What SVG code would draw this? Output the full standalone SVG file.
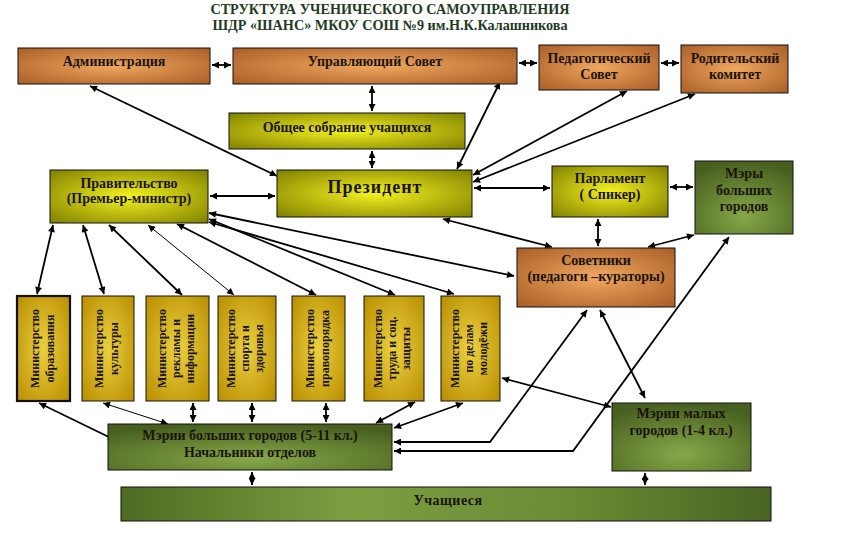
<svg xmlns="http://www.w3.org/2000/svg" width="864" height="540" viewBox="0 0 864 540">
<defs>
<style>
text{font-family:"Liberation Serif","Times New Roman",serif;font-weight:bold;text-anchor:middle;fill:#1a1408}
.t{font-size:14px}
.m{font-size:12px}
.title{font-size:14.2px;fill:#1f3b1f}
.box{stroke:#111;stroke-width:1}
.br{fill:url(#gBrown)}
.ol{fill:url(#gOlive)}
.go{fill:url(#gGold)}
.gr{fill:url(#gGreen)}
.c line,.c polyline{stroke:#000;stroke-width:1.8;fill:none;marker-start:url(#ah);marker-end:url(#ah)}
.c .thin{stroke-width:1}
</style>
<marker id="ah" viewBox="0 0 10 10" refX="10" refY="5" markerUnits="userSpaceOnUse" markerWidth="8" markerHeight="7" orient="auto-start-reverse"><path d="M0,0 L10,5 L0,10 z" fill="#000"/></marker>
<radialGradient id="gBrown" cx="0.5" cy="0.5" r="0.7"><stop offset="0" stop-color="#f0a860"/><stop offset="1" stop-color="#a85e26"/></radialGradient>
<radialGradient id="gOlive" cx="0.5" cy="0.5" r="0.7"><stop offset="0" stop-color="#f4f220"/><stop offset="1" stop-color="#808000"/></radialGradient>
<radialGradient id="gGold" cx="0.5" cy="0.5" r="0.7"><stop offset="0" stop-color="#ecd040"/><stop offset="1" stop-color="#b88e00"/></radialGradient>
<radialGradient id="gGreen" cx="0.5" cy="0.75" r="0.75"><stop offset="0" stop-color="#86a848"/><stop offset="1" stop-color="#48601f"/></radialGradient>
<linearGradient id="gStud" x1="0" y1="0" x2="1" y2="0"><stop offset="0" stop-color="#4e6c22"/><stop offset="0.35" stop-color="#7e9e42"/><stop offset="0.7" stop-color="#6a8a34"/><stop offset="1" stop-color="#4a6422"/></linearGradient>
</defs>
<rect width="864" height="540" fill="#fff"/>
<text class="title" x="390" y="14">СТРУКТУРА УЧЕНИЧЕСКОГО САМОУПРАВЛЕНИЯ</text>
<text class="title" x="390" y="30">ШДР «ШАНС» МКОУ СОШ №9 им.Н.К.Калашникова</text>

<g class="c" id="connectors">
<line x1="212" y1="65" x2="231" y2="65"/>
<line x1="519" y1="63" x2="537" y2="63"/>
<line x1="661" y1="63" x2="679" y2="63"/>
<line x1="372" y1="86" x2="372" y2="111"/>
<line x1="372" y1="151" x2="372" y2="168"/>
<line x1="90" y1="86" x2="277" y2="176"/>
<line x1="500" y1="82" x2="457" y2="169"/>
<line x1="627" y1="91" x2="473" y2="175"/>
<line x1="695" y1="94" x2="473" y2="182"/>
<line x1="474" y1="188" x2="550" y2="188"/>
<line x1="670" y1="187" x2="693" y2="187"/>
<line x1="598" y1="219" x2="598" y2="246"/>
<line x1="648" y1="247" x2="694" y2="235"/>
<line x1="210" y1="196" x2="275" y2="196"/>
<line x1="443" y1="219" x2="552" y2="247"/>
<line x1="209" y1="213" x2="514" y2="276"/>
<line x1="53" y1="225" x2="37" y2="294"/>
<line x1="83" y1="225" x2="104" y2="294"/>
<line x1="109" y1="225" x2="182" y2="295"/>
<line class="thin" x1="148" y1="225" x2="234" y2="295"/>
<line x1="177" y1="224" x2="316" y2="295"/>
<line x1="209" y1="219" x2="395" y2="295"/>
<line x1="209" y1="222" x2="454" y2="294"/>
<line x1="39" y1="403" x2="115" y2="440"/>
<line class="thin" x1="103" y1="403" x2="168" y2="424"/>
<line x1="193" y1="403" x2="193" y2="422"/>
<line x1="252" y1="403" x2="252" y2="422"/>
<line x1="326" y1="403" x2="326" y2="422"/>
<line x1="415" y1="402" x2="376" y2="423"/>
<line x1="463" y1="403" x2="394" y2="428"/>
<polyline points="394,442 490,442 587,310"/>
<polyline points="394,451 573,451 729,237"/>
<line x1="502" y1="378" x2="611" y2="407"/>
<line x1="600" y1="310" x2="645" y2="398"/>
<line x1="252" y1="472" x2="252" y2="485"/>
<line x1="645" y1="473" x2="645" y2="485"/>
</g>

<g id="administration"><rect class="box br" x="18" y="48" width="192" height="36"/><text class="t" x="114" y="66">Администрация</text></g>
<g id="upr-sovet"><rect class="box br" x="233" y="48" width="284" height="36"/><text class="t" x="375" y="66">Управляющий Совет</text></g>
<g id="ped-sovet"><rect class="box br" x="539" y="45" width="120" height="45"/><text class="t" x="599" y="63">Педагогический</text><text class="t" x="599" y="79">Совет</text></g>
<g id="rod-komitet"><rect class="box br" x="681" y="45" width="107" height="48"/><text class="t" x="735" y="63">Родительский</text><text class="t" x="735" y="79">комитет</text></g>
<g id="obshchee"><rect class="box ol" x="229" y="113" width="236" height="36"/><text class="t" x="347" y="132">Общее собрание учащихся</text></g>
<g id="president"><rect class="box ol" x="277" y="170" width="195" height="47"/><text x="375" y="193" style="font-size:18px;letter-spacing:1px">Президент</text></g>
<g id="pravitelstvo"><rect class="box ol" x="50" y="170" width="158" height="53"/><text class="t" x="129" y="188">Правительство</text><text class="t" x="129" y="203">(Премьер-министр)</text></g>
<g id="parlament"><rect class="box ol" x="552" y="166" width="116" height="51"/><text class="t" x="610" y="183">Парламент</text><text class="t" x="610" y="199">( Спикер)</text></g>
<g id="mery-bolshih"><rect class="box gr" x="695" y="161" width="98" height="73"/><text class="t" x="744" y="178">Мэры</text><text class="t" x="744" y="195">больших</text><text class="t" x="744" y="211">городов</text></g>
<g id="sovetniki"><rect class="box br" x="517" y="248" width="158" height="59"/><text class="t" x="596" y="265">Советники</text><text class="t" x="596" y="281">(педагоги –кураторы)</text></g>

<g id="min-obr"><rect x="17" y="296" width="53" height="105" fill="url(#gGold)" stroke="#111" stroke-width="2.2"/><g transform="translate(43.5,348.5) rotate(-90)"><text class="m" x="0" y="-5">Министерство</text><text class="m" x="0" y="10">образования</text></g></g>
<g id="min-kult"><rect class="box go" x="82" y="296" width="52" height="105"/><g transform="translate(108,348.5) rotate(-90)"><text class="m" x="0" y="-5">Министерство</text><text class="m" x="0" y="10">культуры</text></g></g>
<g id="min-rekl"><rect class="box go" x="146" y="296" width="63" height="105"/><g transform="translate(177.5,348.5) rotate(-90)"><text class="m" x="0" y="-12">Министерство</text><text class="m" x="0" y="2">рекламы и</text><text class="m" x="0" y="16">информации</text></g></g>
<g id="min-sport"><rect class="box go" x="218" y="296" width="58" height="105"/><g transform="translate(247,348.5) rotate(-90)"><text class="m" x="0" y="-12">Министерство</text><text class="m" x="0" y="2">спорта и</text><text class="m" x="0" y="16">здоровья</text></g></g>
<g id="min-prav"><rect class="box go" x="292" y="296" width="53" height="105"/><g transform="translate(318.5,348.5) rotate(-90)"><text class="m" x="0" y="-5">Министерство</text><text class="m" x="0" y="10">правопорядка</text></g></g>
<g id="min-truda"><rect class="box go" x="364" y="296" width="60" height="105"/><g transform="translate(394,348.5) rotate(-90)"><text class="m" x="0" y="-12">Министерство</text><text class="m" x="0" y="2">труда и соц.</text><text class="m" x="0" y="16">защиты</text></g></g>
<g id="min-molod"><rect class="box go" x="441" y="296" width="59" height="105"/><g transform="translate(470.5,348.5) rotate(-90)"><text class="m" x="0" y="-12">Министерство</text><text class="m" x="0" y="2">по делам</text><text class="m" x="0" y="16">молодёжи</text></g></g>

<g id="merii-bolshih"><rect class="box gr" x="108" y="424" width="284" height="46"/><text class="t" x="250" y="440">Мэрии больших городов (5-11 кл.)</text><text class="t" x="250" y="457">Начальники отделов</text></g>
<g id="merii-malyh"><rect class="box gr" x="612" y="403" width="139" height="68"/><text class="t" x="681" y="418">Мэрии малых</text><text class="t" x="681" y="435">городов (1-4  кл.)</text></g>
<g id="uchashchiesya"><rect x="121" y="487" width="650" height="34" fill="url(#gStud)" stroke="#111"/><text class="t" x="448" y="505" style="letter-spacing:0.5px">Учащиеся</text></g>
</svg>
